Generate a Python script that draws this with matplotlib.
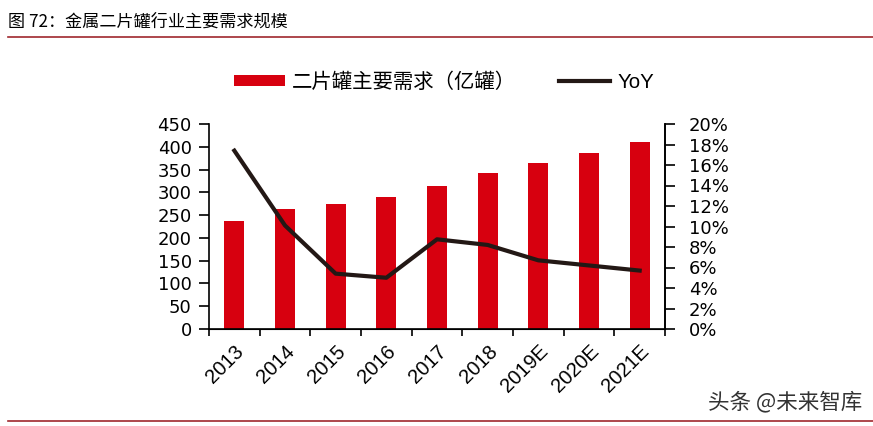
import matplotlib
matplotlib.use("Agg")
import matplotlib.pyplot as plt
from matplotlib.ticker import FuncFormatter, MultipleLocator

plt.rcParams['font.family'] = ['Liberation Sans', 'Noto Sans CJK SC', 'DejaVu Sans']

categories = ["2013", "2014", "2015", "2016", "2017", "2018", "2019E", "2020E", "2021E"]
demand = [237, 263, 274, 289, 315, 342, 365, 387, 410]
yoy = [17.4, 10.1, 5.4, 5.0, 8.75, 8.2, 6.7, 6.2, 5.7]

title = "图 72：金属二片罐行业主要需求规模"
bar_label = "二片罐主要需求（亿罐）"
line_label = "YoY"
watermark = "头条 @未来智库"

fig = plt.figure(figsize=(8.73, 4.26), dpi=100)
ax = fig.add_axes([209/873, 1-329/426, (665-209)/873, (329-124)/426])
x = list(range(len(categories)))
bars = ax.bar(x, demand, width=0.4, color="#D7000F", label=bar_label, zorder=2)
ax.set_xlim(-0.5, len(categories)-0.5)
ax.set_ylim(0, 450)
ax.yaxis.set_major_locator(MultipleLocator(50))
ax.set_xticks(x)
ax.set_xticklabels(categories, rotation=45, ha="right", rotation_mode="anchor", fontsize=14.5)
ax.tick_params(axis='x', length=0, pad=9)
ax.set_xticks([i - 0.5 for i in range(len(categories)+1)], minor=True)
ax.tick_params(axis='x', which='minor', length=5, width=1.2, direction='out')
ax.tick_params(axis='y', labelsize=13, length=7, width=1.2, pad=5.5)
for lbl in ax.get_yticklabels():
    lbl.set_family('DejaVu Sans')
ax.spines["top"].set_visible(False)
for s in ["left", "bottom", "right"]:
    ax.spines[s].set_linewidth(1.2)

ax2 = ax.twinx()
line, = ax2.plot(x, yoy, color="#231815", lw=3, label=line_label, zorder=3)
ax2.set_ylim(0, 20)
ax2.yaxis.set_major_locator(MultipleLocator(2))
ax2.yaxis.set_major_formatter(FuncFormatter(lambda v, p: f"{v:.0f}%"))
ax2.tick_params(axis='y', labelsize=13, length=7, width=1.2, pad=10)
for lbl in ax2.get_yticklabels():
    lbl.set_family('DejaVu Sans')
ax2.spines["top"].set_visible(False)
ax2.spines["right"].set_linewidth(1.2)
ax2.spines["left"].set_visible(False)

fig.legend([bars, line], [bar_label, line_label], loc="center", bbox_to_anchor=(444/873, 1-82/426),
           ncol=2, frameon=False, fontsize=14.7, handlelength=2.5, handleheight=0.45,
           columnspacing=2.1, handletextpad=0.35)

fig.text(8/873, 1-22/426, title, fontsize=12.3, ha="left", va="center",
         family=['Noto Sans CJK SC', 'DejaVu Sans'])
fig.add_artist(plt.Line2D([8/873, 1], [1-37/426, 1-37/426], color="#A0282D", lw=1.2))
fig.add_artist(plt.Line2D([8/873, 1], [1-421/426, 1-421/426], color="#A0282D", lw=1.2))
fig.text(862/873, 1-402/426, watermark, fontsize=15.5, ha="right", va="center", color="#333333",
         family=['Noto Sans CJK SC', 'DejaVu Sans'])

fig.savefig("out.png", dpi=100)
